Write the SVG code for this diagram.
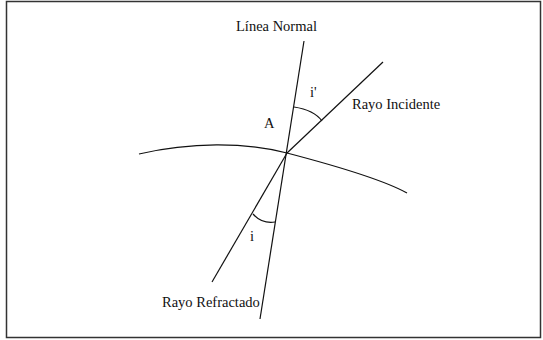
<svg xmlns="http://www.w3.org/2000/svg" width="543" height="340" viewBox="0 0 543 340">
<style>
.ln{stroke:#111;stroke-width:1.2;fill:none}
.t{font-family:'Liberation Serif','DejaVu Serif',Times,serif;font-size:14.5px;fill:#111}
</style>
<rect x="0" y="0" width="543" height="340" fill="#fff"/>
<rect x="6.5" y="1.5" width="534" height="336" fill="none" stroke="#333" stroke-width="1.5"/>
<g id="connectors">
<line class="ln" x1="304" y1="41" x2="260" y2="319"/>
<line class="ln" x1="287" y1="153" x2="383" y2="62"/>
<line class="ln" x1="287" y1="153" x2="212" y2="282"/>
<path class="ln" d="M139,154 C190,142 245,142 287,153 S380,178 407,193"/>
<path class="ln" d="M294,107 Q314,110 322,121"/>
<path class="ln" d="M253,214 Q262,224 275,222"/>
</g>
<g id="normal"><text class="t" x="236" y="31">Línea Normal</text></g>
<g id="incidente"><text class="t" x="352" y="109">Rayo Incidente</text></g>
<g id="refractado"><text class="t" x="162" y="307">Rayo Refractado</text></g>
<g id="A"><text class="t" x="264" y="128">A</text></g>
<g id="ip"><text class="t" x="310" y="97">i'</text></g>
<g id="i"><text class="t" x="250" y="241">i</text></g>
</svg>
